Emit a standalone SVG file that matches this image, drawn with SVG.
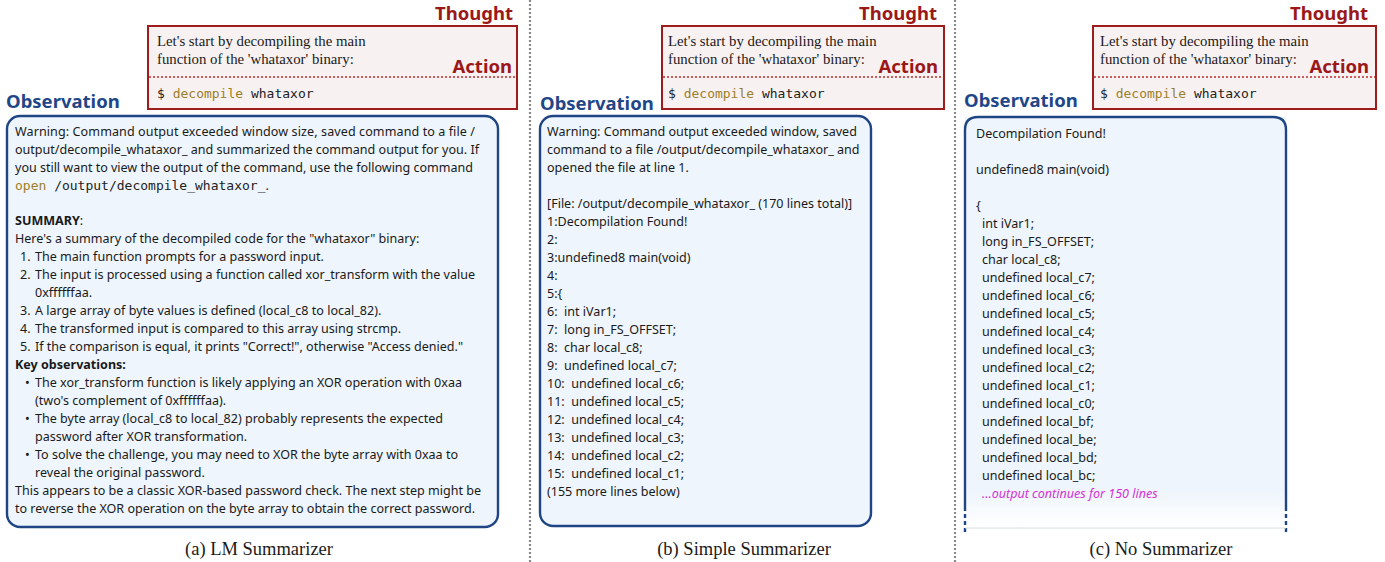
<svg xmlns="http://www.w3.org/2000/svg" width="1385" height="562" viewBox="0 0 1385 562">
<style>
.bg{fill:#ffffff}
.sep{stroke:#8a8a8a;stroke-width:2.2;stroke-dasharray:2 2;fill:none}
.tbox{fill:#f8f1f1;stroke:#9e1c1c;stroke-width:2}
.tdiv{stroke:#c02a2a;stroke-width:1.3;stroke-dasharray:2 2;fill:none}
.ttl{font-family:"Noto Sans","Open Sans",sans-serif;font-weight:bold;font-size:18.5px;fill:#9b1818}
.olbl{font-family:"Noto Sans","Open Sans",sans-serif;font-weight:bold;font-size:18.5px;fill:#1f4788}
.ttxt{font-family:"Liberation Serif","DejaVu Serif",serif;font-size:14.8px;fill:#1a1a1a}
.mono{font-family:"DejaVu Sans Mono","Liberation Mono",monospace;font-size:13px;fill:#222}
.kw{fill:#9c7f28}
.obox{fill:#eef5fc;stroke:#1f4585;stroke-width:2.4}
.otxt{font-family:"Noto Sans","Open Sans",sans-serif;font-size:12.55px;fill:#1a1a1a;white-space:pre}
.b{font-weight:bold}
.more{font-style:italic;fill:#d632d6}
.cap{font-family:"Liberation Serif","DejaVu Serif",serif;font-size:18.5px;fill:#1a1a1a;text-anchor:middle}
</style>
<defs>
<linearGradient id="fade" x1="0" y1="0" x2="0" y2="1">
<stop offset="0" stop-color="#eef5fc"/>
<stop offset="1" stop-color="#ffffff"/>
</linearGradient>
</defs>
<rect class="bg" x="0" y="0" width="1385" height="562"/>
<g id="separators">
<line class="sep" x1="530" y1="0" x2="530" y2="562"/>
<line class="sep" x1="955" y1="0" x2="955" y2="562"/>
</g>

<g id="panel-a">
<g id="a-thought">
<text class="ttl" x="513" y="20" text-anchor="end">Thought</text>
<rect class="tbox" x="148" y="26" width="369" height="83"/>
<line class="tdiv" x1="149" y1="77" x2="516" y2="77"/>
<text class="ttxt" x="157" y="46">Let's start by decompiling the main</text>
<text class="ttxt" x="157" y="64">function of the 'whataxor' binary:</text>
<text class="ttl" x="512" y="73" text-anchor="end">Action</text>
<text class="mono" x="157" y="98">$ <tspan class="kw">decompile</tspan> whataxor</text>
</g>
<g id="a-observation">
<text class="olbl" x="6" y="108">Observation</text>
<rect class="obox" x="7" y="116" width="491" height="411" rx="13"/>
<text class="otxt" x="15" y="136" textLength="460" lengthAdjust="spacing">Warning: Command output exceeded window size, saved command to a file /</text>
<text class="otxt" x="15" y="154" textLength="464" lengthAdjust="spacing">output/decompile_whataxor_ and summarized the command output for you. If</text>
<text class="otxt" x="15" y="172" textLength="458" lengthAdjust="spacing">you still want to view the output of the command, use the following command</text>
<text class="otxt" x="15" y="190"><tspan class="mono kw">open</tspan><tspan class="mono"> /output/decompile_whataxor_</tspan>.</text>
<text class="otxt" x="15" y="225"><tspan class="b">SUMMARY</tspan>:</text>
<text class="otxt" x="15" y="243">Here's a summary of the decompiled code for the "whataxor" binary:</text>
<text class="otxt" x="20" y="261">1.</text><text class="otxt" x="35" y="261">The main function prompts for a password input.</text>
<text class="otxt" x="20" y="279">2.</text><text class="otxt" x="35" y="279" textLength="440" lengthAdjust="spacing">The input is processed using a function called xor_transform with the value</text>
<text class="otxt" x="35" y="297">0xffffffaa.</text>
<text class="otxt" x="20" y="315">3.</text><text class="otxt" x="35" y="315">A large array of byte values is defined (local_c8 to local_82).</text>
<text class="otxt" x="20" y="333">4.</text><text class="otxt" x="35" y="333">The transformed input is compared to this array using strcmp.</text>
<text class="otxt" x="20" y="351">5.</text><text class="otxt" x="35" y="351" textLength="428" lengthAdjust="spacing">If the comparison is equal, it prints "Correct!", otherwise "Access denied."</text>
<text class="otxt b" x="15" y="369">Key observations:</text>
<text class="otxt" x="25" y="387">•</text><text class="otxt" x="35" y="387" textLength="427" lengthAdjust="spacing">The xor_transform function is likely applying an XOR operation with 0xaa</text>
<text class="otxt" x="35" y="405">(two's complement of 0xffffffaa).</text>
<text class="otxt" x="25" y="423">•</text><text class="otxt" x="35" y="423" textLength="408" lengthAdjust="spacing">The byte array (local_c8 to local_82) probably represents the expected</text>
<text class="otxt" x="35" y="441">password after XOR transformation.</text>
<text class="otxt" x="25" y="459">•</text><text class="otxt" x="35" y="459" textLength="423" lengthAdjust="spacing">To solve the challenge, you may need to XOR the byte array with 0xaa to</text>
<text class="otxt" x="35" y="477">reveal the original password.</text>
<text class="otxt" x="15" y="495" textLength="466" lengthAdjust="spacing">This appears to be a classic XOR-based password check. The next step might be</text>
<text class="otxt" x="15" y="513" textLength="460" lengthAdjust="spacing">to reverse the XOR operation on the byte array to obtain the correct password.</text>
</g>
<text class="cap" x="259" y="555">(a) LM Summarizer</text>
</g>

<g id="panel-b">
<g id="b-thought">
<text class="ttl" x="937" y="20" text-anchor="end">Thought</text>
<rect class="tbox" x="662" y="26" width="282" height="83"/>
<line class="tdiv" x1="663" y1="77" x2="943" y2="77"/>
<text class="ttxt" x="668" y="46">Let's start by decompiling the main</text>
<text class="ttxt" x="668" y="64">function of the 'whataxor' binary:</text>
<text class="ttl" x="938" y="73" text-anchor="end">Action</text>
<text class="mono" x="668" y="98">$ <tspan class="kw">decompile</tspan> whataxor</text>
</g>
<g id="b-observation">
<text class="olbl" x="540" y="110">Observation</text>
<rect class="obox" x="540" y="116" width="331" height="410" rx="13"/>
<text class="otxt" x="547" y="136">Warning: Command output exceeded window, saved</text>
<text class="otxt" x="547" y="154">command to a file /output/decompile_whataxor_ and</text>
<text class="otxt" x="547" y="172">opened the file at line 1.</text>
<text class="otxt" x="547" y="208">[File: /output/decompile_whataxor_ (170 lines total)]</text>
<text class="otxt" x="547" y="226">1:Decompilation Found!</text>
<text class="otxt" x="547" y="244">2:</text>
<text class="otxt" x="547" y="262">3:undefined8 main(void)</text>
<text class="otxt" x="547" y="280">4:</text>
<text class="otxt" x="547" y="298">5:{</text>
<text class="otxt" x="547" y="316">6:  int iVar1;</text>
<text class="otxt" x="547" y="334">7:  long in_FS_OFFSET;</text>
<text class="otxt" x="547" y="352">8:  char local_c8;</text>
<text class="otxt" x="547" y="370">9:  undefined local_c7;</text>
<text class="otxt" x="547" y="388">10:  undefined local_c6;</text>
<text class="otxt" x="547" y="406">11:  undefined local_c5;</text>
<text class="otxt" x="547" y="424">12:  undefined local_c4;</text>
<text class="otxt" x="547" y="442">13:  undefined local_c3;</text>
<text class="otxt" x="547" y="460">14:  undefined local_c2;</text>
<text class="otxt" x="547" y="478">15:  undefined local_c1;</text>
<text class="otxt" x="547" y="496">(155 more lines below)</text>
</g>
<text class="cap" x="744" y="555">(b) Simple Summarizer</text>
</g>

<g id="panel-c">
<g id="c-thought">
<text class="ttl" x="1368" y="20" text-anchor="end">Thought</text>
<rect class="tbox" x="1093" y="26" width="283" height="83"/>
<line class="tdiv" x1="1094" y1="77" x2="1375" y2="77"/>
<text class="ttxt" x="1100" y="46">Let's start by decompiling the main</text>
<text class="ttxt" x="1100" y="64">function of the 'whataxor' binary:</text>
<text class="ttl" x="1369" y="73" text-anchor="end">Action</text>
<text class="mono" x="1100" y="98">$ <tspan class="kw">decompile</tspan> whataxor</text>
</g>
<g id="c-observation">
<text class="olbl" x="964" y="107">Observation</text>
<rect x="965" y="117" width="321" height="375" fill="#eef5fc"/>
<rect x="965" y="490" width="321" height="38" fill="url(#fade)"/>
<path d="M965,507 L965,130 Q965,117 978,117 L1273,117 Q1286,117 1286,130 L1286,507" fill="none" stroke="#1f4585" stroke-width="2.4"/>
<path d="M965,507 L965,533 M1286,507 L1286,533" fill="none" stroke="#1f4585" stroke-width="2.4" stroke-dasharray="4 3"/>
<line x1="965" y1="528" x2="1286" y2="528" stroke="#d8dde3" stroke-width="1"/>
<text class="otxt" x="976" y="138">Decompilation Found!</text>
<text class="otxt" x="976" y="174">undefined8 main(void)</text>
<text class="otxt" x="976" y="210">{</text>
<text class="otxt" x="982" y="228">int iVar1;</text>
<text class="otxt" x="982" y="246">long in_FS_OFFSET;</text>
<text class="otxt" x="982" y="264">char local_c8;</text>
<text class="otxt" x="982" y="282">undefined local_c7;</text>
<text class="otxt" x="982" y="300">undefined local_c6;</text>
<text class="otxt" x="982" y="318">undefined local_c5;</text>
<text class="otxt" x="982" y="336">undefined local_c4;</text>
<text class="otxt" x="982" y="354">undefined local_c3;</text>
<text class="otxt" x="982" y="372">undefined local_c2;</text>
<text class="otxt" x="982" y="390">undefined local_c1;</text>
<text class="otxt" x="982" y="408">undefined local_c0;</text>
<text class="otxt" x="982" y="426">undefined local_bf;</text>
<text class="otxt" x="982" y="444">undefined local_be;</text>
<text class="otxt" x="982" y="462">undefined local_bd;</text>
<text class="otxt" x="982" y="480">undefined local_bc;</text>
<text class="otxt more" x="982" y="498">...output continues for 150 lines</text>
</g>
<text class="cap" x="1161" y="555">(c) No Summarizer</text>
</g>
</svg>
